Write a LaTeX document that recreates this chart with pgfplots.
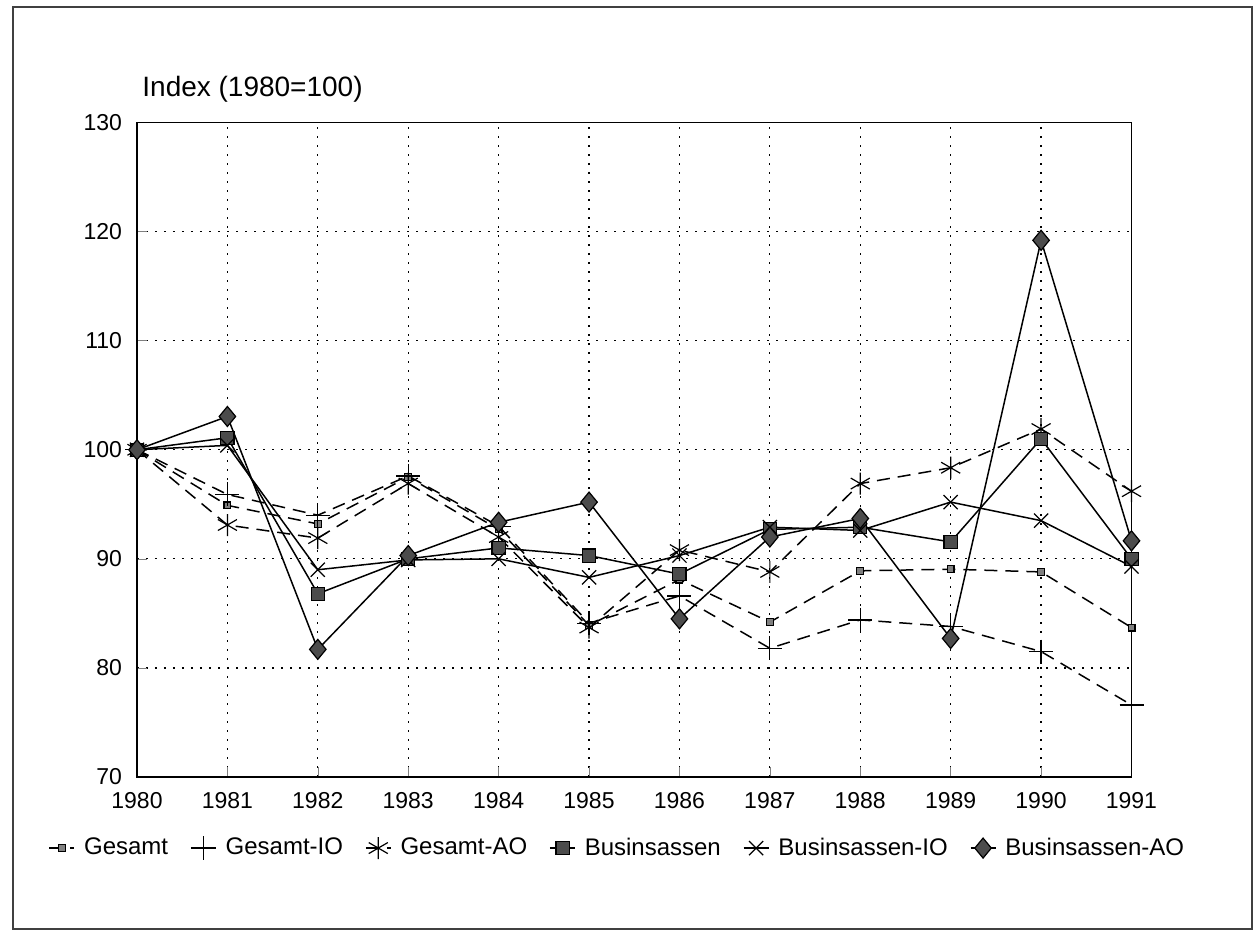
\documentclass[border=0pt]{standalone}
\usepackage{fontspec}
\setmainfont{Liberation Sans}
\usepackage{pgfplots}
\pgfplotsset{compat=1.18}

\begin{document}
\begin{tikzpicture}
\path[use as bounding box] (0,0) rectangle (629.5pt,466pt);
\draw[line width=0.6pt, black!75] (6.5pt,1.5pt) rectangle (626pt,462.5pt);
\begin{axis}[
  at={(68.5pt,77.5pt)}, anchor=south west,
  scale only axis, width=497.25pt, height=327.25pt,
  xmin=1980, xmax=1991, ymin=70, ymax=130,
  xtick={1980,...,1991}, ytick={70,80,...,130},
  /pgf/number format/1000 sep={},
  /pgf/number format/assume math mode=true,
  tick label style={font=\fontsize{11.5}{13}\selectfont},
  xticklabel style={yshift=-4pt},
  yticklabel style={xshift=-4pt},
  tick align=inside, xtick pos=bottom, ytick pos=left,
  major tick length=5pt,
  axis line style={line width=0.9pt},
  grid=major,
  major grid style={black, line width=0.6pt, dash pattern=on 0.9pt off 3.6pt},
  clip=false,
  every axis plot/.append style={black, line width=0.75pt},
  legend style={at={(0.484,-0.1086)}, anchor=center, draw=none,
    font=\fontsize{12}{14}\selectfont, legend columns=-1,
    /tikz/every odd column/.append style={column sep=2.5pt},
    /tikz/every even column/.append style={column sep=9pt}},
  legend image code/.code={\draw[#1, mark repeat=2, mark phase=2]
    plot coordinates {(0cm,0cm) (0.22cm,0cm) (0.44cm,0cm)};},
]
% Gesamt
\addplot[dash pattern=on 6.5pt off 4pt, mark=square*, mark size=1.7pt,
  mark options={solid, fill=black!50, line width=0.6pt}] coordinates {
  (1980,100) (1981,94.9) (1982,93.2) (1983,97.5) (1984,92.7) (1985,83.9)
  (1986,88.1) (1987,84.2) (1988,88.9) (1989,89.05) (1990,88.8) (1991,83.7)};
% Gesamt-IO
\addplot[dash pattern=on 6.5pt off 4pt, mark=+, mark size=6pt,
  mark options={solid, line width=0.6pt}] coordinates {
  (1980,100) (1981,95.9) (1982,94.0) (1983,97.6) (1984,93.0) (1985,84.1)
  (1986,86.6) (1987,81.8) (1988,84.4) (1989,83.8) (1990,81.5) (1991,76.6)};
% Gesamt-AO
\addplot[dash pattern=on 6.5pt off 4pt, mark=asterisk, mark size=5.5pt,
  mark options={solid, line width=0.6pt}] coordinates {
  (1980,100) (1981,93.1) (1982,91.9) (1983,96.9) (1984,92.0) (1985,83.7)
  (1986,90.8) (1987,88.8) (1988,96.9) (1989,98.35) (1990,101.9) (1991,96.2)};
% Businsassen
\addplot[mark=square*, mark size=3.3pt,
  mark options={solid, fill=black!70, line width=0.6pt}] coordinates {
  (1980,100) (1981,101.1) (1982,86.8) (1983,90.0) (1984,91.0) (1985,90.3)
  (1986,88.6) (1987,92.7) (1988,92.9) (1989,91.55) (1990,101.0) (1991,90.0)};
% Businsassen-IO
\addplot[mark=x, mark size=5pt,
  mark options={solid, line width=0.6pt}] coordinates {
  (1980,100) (1981,100.4) (1982,89.0) (1983,89.9) (1984,90.0) (1985,88.3)
  (1986,90.3) (1987,92.9) (1988,92.6) (1989,95.2) (1990,93.5) (1991,89.3)};
% Businsassen-AO
\addplot[mark=diamond*, mark size=5pt,
  mark options={solid, fill=black!70, line width=0.6pt, xscale=1.1}] coordinates {
  (1980,100) (1981,103.05) (1982,81.7) (1983,90.3) (1984,93.35) (1985,95.2)
  (1986,84.5) (1987,92.0) (1988,93.7) (1989,82.7) (1990,119.2) (1991,91.65)};
\legend{Gesamt,Gesamt-IO,Gesamt-AO,Businsassen,Businsassen-IO,Businsassen-AO}
\end{axis}
\node[anchor=base west, inner sep=0pt, font=\fontsize{14}{16}\selectfont]
  at (71pt,417.5pt) {Index (1980=100)};
\end{tikzpicture}
\end{document}
